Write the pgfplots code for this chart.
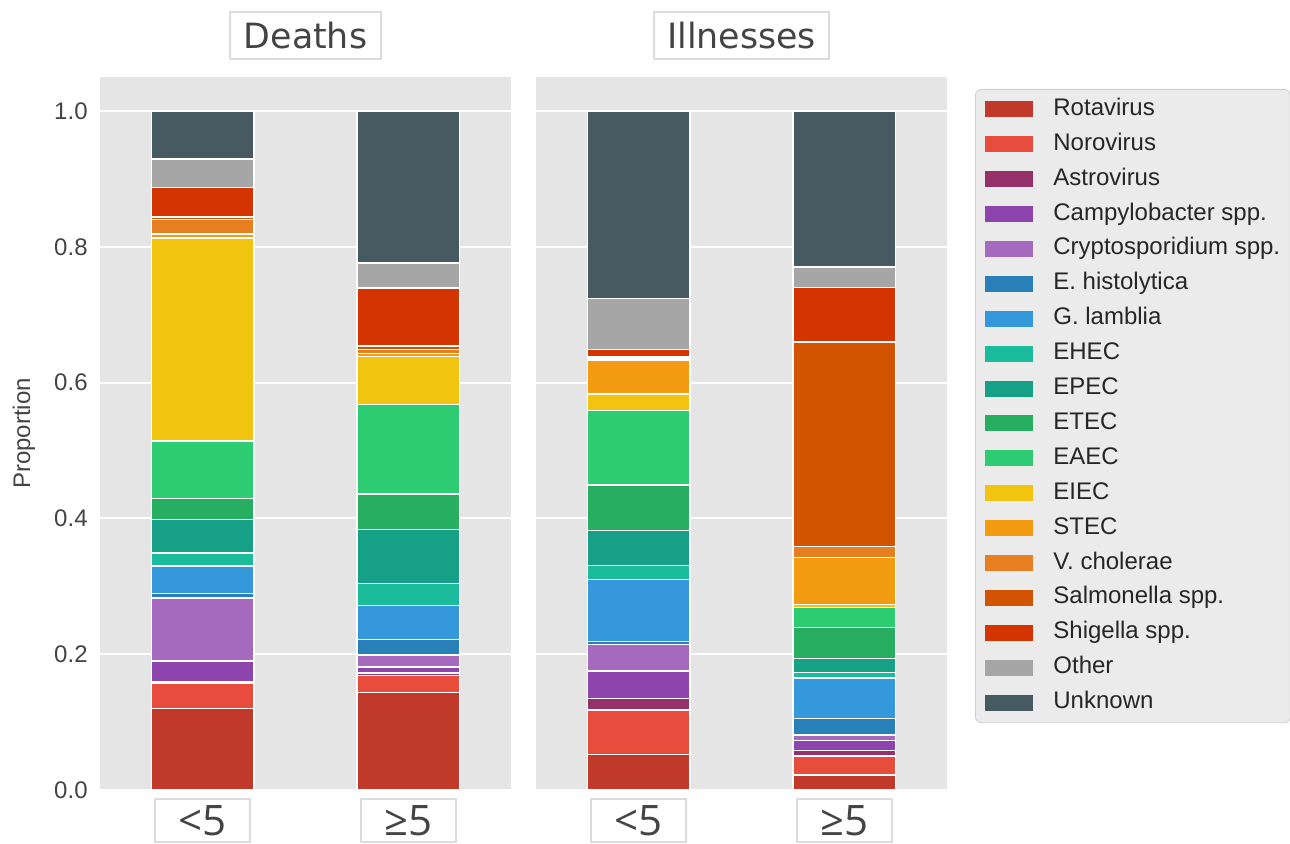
\documentclass[border=0pt]{standalone}
\usepackage{fontspec}
\setmainfont{Liberation Sans}
\newfontfamily\dejavu{DejaVu Sans}
\newfontfamily\opensans{Open Sans}
\usepackage{pgfplots}
\usepackage{pgfplotstable}
\pgfplotsset{compat=1.18}

\definecolor{cRota}{HTML}{C0392B}
\definecolor{cNoro}{HTML}{E74C3C}
\definecolor{cAstro}{HTML}{96306A}
\definecolor{cCampy}{HTML}{8E44AD}
\definecolor{cCrypto}{HTML}{A569BD}
\definecolor{cEhist}{HTML}{2980B9}
\definecolor{cGlam}{HTML}{3498DB}
\definecolor{cEHEC}{HTML}{1ABC9C}
\definecolor{cEPEC}{HTML}{16A085}
\definecolor{cETEC}{HTML}{27AE60}
\definecolor{cEAEC}{HTML}{2ECC71}
\definecolor{cEIEC}{HTML}{F1C40F}
\definecolor{cSTEC}{HTML}{F39C12}
\definecolor{cVchol}{HTML}{E67E22}
\definecolor{cSalm}{HTML}{D35400}
\definecolor{cShig}{HTML}{D43500}
\definecolor{cOther}{HTML}{A6A6A6}
\definecolor{cUnk}{HTML}{475A62}
\definecolor{bggray}{HTML}{E5E5E5}
\definecolor{boxgray}{HTML}{DCDCDC}
\definecolor{titlegray}{HTML}{444444}
\definecolor{legendbg}{HTML}{EBEBEB}
\definecolor{legendborder}{HTML}{CFCFCF}

\pgfplotstableread{
x Rota Noro Astro Campy Crypto Ehist Glam EHEC EPEC ETEC EAEC EIEC STEC Vchol Salm Shig Other Unk
0 0.120 0.037 0.002 0.031 0.093 0.006 0.041 0.019 0.049 0.031 0.085 0.299 0.006 0.021 0.004 0.043 0.042 0.071
1 0.144 0.025 0.003 0.009 0.018 0.023 0.050 0.032 0.080 0.052 0.132 0.070 0.005 0.006 0.005 0.085 0.037 0.224
}\deaths

\pgfplotstableread{
x Rota Noro Astro Campy Crypto Ehist Glam EHEC EPEC ETEC EAEC EIEC STEC Vchol Salm Shig Other Unk
0 0.052 0.066 0.017 0.040 0.039 0.005 0.091 0.021 0.051 0.067 0.110 0.024 0.050 0.003 0.002 0.011 0.075 0.276
1 0.022 0.028 0.008 0.015 0.008 0.024 0.060 0.008 0.021 0.045 0.030 0.004 0.069 0.017 0.301 0.080 0.030 0.230
}\illness

\pgfplotsset{
  panel/.style={
    width=205.5pt, height=356.5pt, scale only axis,
    anchor=south west,
    xmin=-0.5, xmax=1.5, ymin=0, ymax=1.05,
    ybar stacked, bar width=0.5,
    axis background/.style={fill=bggray},
    axis line style={draw=none},
    major tick length=0pt,
    ytick={0,0.2,0.4,0.6,0.8,1.0},
    ymajorgrids, major grid style={white, line width=1pt},
    xtick={0,1}, xticklabels={<5,≥5},
    xticklabel style={font=\opensans\fontsize{21}{21}\selectfont, text=titlegray,
      draw=boxgray, line width=1pt, fill=white, minimum width=47.5pt,
      inner xsep=0pt, inner ysep=3pt, text height=15.5pt, text depth=0pt,
      anchor=north, yshift=-4pt},
    yticklabel style={font=\fontsize{12}{12}\selectfont, text=titlegray,
      /pgf/number format/fixed, /pgf/number format/fixed zerofill,
      /pgf/number format/precision=1, /pgf/number format/assume math mode=true},
    title style={font=\dejavu\fontsize{17.4}{17.4}\selectfont, text=titlegray,
      draw=boxgray, line width=1pt, fill=white, inner xsep=6.7pt,
      text height=12.7pt, text depth=0pt, inner ysep=5.5pt,
      at={(0.5,1)}, anchor=center, yshift=14.75pt},
    every axis plot/.append style={draw=white, line width=0.7pt},
    every axis plot post/.append style={legend image code/.code={
      \fill[##1, draw=none, sharp corners] (0pt,-4pt) rectangle (24pt,4pt);}},
  }
}

\begin{document}
\begin{tikzpicture}
\path[use as bounding box] (0,-27pt) rectangle (645pt,395pt);

\begin{axis}[panel, at={(50pt,0pt)}, title={Deaths},
  ylabel={Proportion},
  ylabel style={font=\fontsize{12}{12}\selectfont, text=titlegray,
    at={(axis description cs:0,0.5)}, anchor=center, yshift=38pt},
  yticklabel style={anchor=east, inner sep=0pt, xshift=-6pt}]
\pgfplotsinvokeforeach{Rota,Noro,Astro,Campy,Crypto,Ehist,Glam,EHEC,EPEC,ETEC,EAEC,EIEC,STEC,Vchol,Salm,Shig,Other,Unk}{
  \addplot[fill=c#1] table[x=x, y=#1] {\deaths};
}
\end{axis}

\begin{axis}[panel, at={(268pt,0pt)}, title={Illnesses},
  yticklabels={},
  legend entries={Rotavirus, Norovirus, Astrovirus, Campylobacter spp., Cryptosporidium spp., E. histolytica, G. lamblia, EHEC, EPEC, ETEC, EAEC, EIEC, STEC, V. cholerae, Salmonella spp., Shigella spp., Other, Unknown},
  legend cell align=left,
  legend style={at={(1,1)}, anchor=north west, xshift=14pt, yshift=-6pt,
    draw=legendborder, fill=legendbg, rounded corners=3pt,
    font=\fontsize{12}{12}\selectfont, text=black!85,
    inner xsep=5pt, inner ysep=4pt, row sep=5.45pt, column sep=10pt,
    nodes={inner sep=0pt, text height=9pt, text depth=3pt}}]
\pgfplotsinvokeforeach{Rota,Noro,Astro,Campy,Crypto,Ehist,Glam,EHEC,EPEC,ETEC,EAEC,EIEC,STEC,Vchol,Salm,Shig,Other,Unk}{
  \addplot[fill=c#1] table[x=x, y=#1] {\illness};
}
\end{axis}
\end{tikzpicture}
\end{document}
